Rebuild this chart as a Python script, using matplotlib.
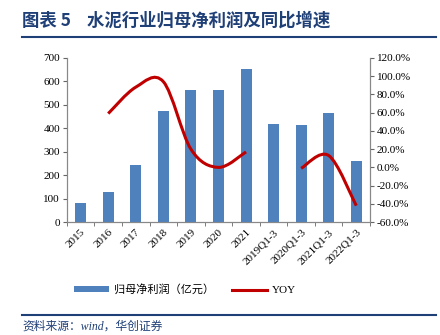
import numpy as np
import matplotlib
matplotlib.use('Agg')
import matplotlib.pyplot as plt
from matplotlib.path import Path
from matplotlib.patches import PathPatch, Patch
from matplotlib.lines import Line2D
from matplotlib.ticker import FuncFormatter

plt.rcParams['font.family'] = ['Liberation Serif', 'Noto Sans CJK SC']

categories = ['2015', '2016', '2017', '2018', '2019', '2020', '2021',
              '2019Q1-3', '2020Q1-3', '2021Q1-3', '2022Q1-3']
profit = [81, 128, 242, 472, 562, 562, 654, 420, 414, 465, 260]
# YOY (%) in two separate segments
yoy_seg1_idx = [1, 2, 3, 4, 5, 6]
yoy_seg1 = [59, 88, 94, 20, 0, 17]
yoy_seg2_idx = [8, 9, 10]
yoy_seg2 = [-1, 13, -42]

bar_color = '#4F81BD'
line_color = '#C00000'
navy = '#1F3F77'


def smooth_path(xs, ys):
    # Excel-like smoothed line: cubic Bezier through every point
    xs = np.asarray(xs, float)
    ys = np.asarray(ys, float)
    n = len(xs)
    verts = [(xs[0], ys[0])]
    codes = [Path.MOVETO]
    for i in range(n - 1):
        x0, y0 = (xs[i - 1], ys[i - 1]) if i > 0 else (xs[i], ys[i])
        x3, y3 = (xs[i + 2], ys[i + 2]) if i + 2 < n else (xs[i + 1], ys[i + 1])
        c1 = (xs[i] + (xs[i + 1] - x0) / 6, ys[i] + (ys[i + 1] - y0) / 6)
        c2 = (xs[i + 1] - (x3 - xs[i]) / 6, ys[i + 1] - (y3 - ys[i]) / 6)
        verts += [c1, c2, (xs[i + 1], ys[i + 1])]
        codes += [Path.CURVE4] * 3
    return Path(verts, codes)


fig = plt.figure(figsize=(4.4, 3.35), dpi=100)
ax = fig.add_axes([0.152, 0.337, 0.689, 0.49])
ax2 = ax.twinx()

x = np.arange(len(categories))
ax.bar(x, profit, width=0.4, color=bar_color, zorder=2)
ax.set_xlim(-0.5, len(categories) - 0.5)
ax.set_ylim(0, 700)
ax.set_yticks(range(0, 701, 100))
ax.set_xticks(x)
ax.set_xticklabels(categories, rotation=45, ha='right', rotation_mode='anchor')
ax.set_xticks(np.arange(-0.5, len(categories), 1), minor=True)
ax.tick_params(axis='x', which='major', length=0, labelsize=8, pad=4)
ax.tick_params(axis='x', which='minor', length=3, direction='out', color='#666666')
ax.tick_params(axis='y', labelsize=8, length=3, color='#666666', pad=2)

for a in (ax, ax2):
    a.spines['top'].set_visible(False)
    for s in ('left', 'right', 'bottom'):
        a.spines[s].set_color('#888888')
        a.spines[s].set_linewidth(0.8)

ax2.set_ylim(-60, 120)
ax2.set_yticks(range(-60, 121, 20))
ax2.yaxis.set_major_formatter(FuncFormatter(lambda v, p: '%.1f%%' % v))
ax2.tick_params(axis='y', labelsize=8, length=3, color='#666666', pad=2)

for idx, vals in ((yoy_seg1_idx, yoy_seg1), (yoy_seg2_idx, yoy_seg2)):
    ax2.add_patch(PathPatch(smooth_path(idx, vals), facecolor='none',
                            edgecolor=line_color, linewidth=2.2, zorder=3))

handles = [Patch(facecolor=bar_color, edgecolor='none'),
           Line2D([], [], color=line_color, linewidth=2.2)]
fig.legend(handles, ['归母净利润（亿元）', 'YOY'], loc='center',
           bbox_to_anchor=(0.42, 0.135), ncol=2, frameon=False,
           fontsize=8, handlelength=3.2, handleheight=0.5,
           handletextpad=0.4, columnspacing=1.6)

fig.text(0.05, 0.94, '图表 5    水泥行业归母净利润及同比增速', fontsize=12.5,
         fontweight='bold', color=navy, va='center',
         family=['Noto Sans CJK SC'])
fig.add_artist(Line2D([0.05, 0.99], [0.89, 0.89], color=navy, linewidth=1.5))
fig.add_artist(Line2D([0.05, 0.99], [0.06, 0.06], color=navy, linewidth=1.5))
fig.text(0.05, 0.025, '资料来源：wind，华创证券', fontsize=8.5, color=navy,
         va='center', style='italic')

fig.savefig('out.png', dpi=100)
